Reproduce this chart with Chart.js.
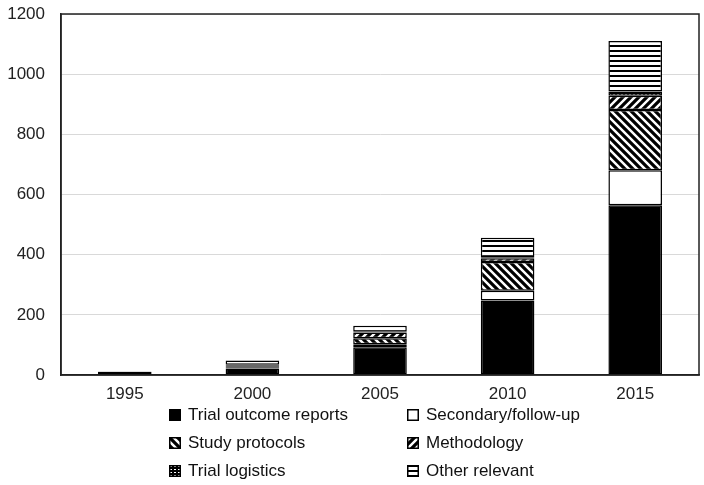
<!DOCTYPE html>
<html><head><meta charset="utf-8">
<script src="https://cdn.jsdelivr.net/npm/chart.js@4"></script>
<style>
html,body{margin:0;padding:0;background:#fff;}
#wrap{position:relative;width:704px;height:485px;}
canvas#c{position:absolute;left:0;top:0;}
#legend{position:absolute;left:0;top:0;width:704px;height:485px;pointer-events:none;font-family:"Liberation Sans",Arial,sans-serif;font-size:17px;color:#111;}
.li{position:absolute;height:20px;line-height:20px;white-space:nowrap;}
.li canvas{position:absolute;left:0;top:4px;}
.li span{position:absolute;left:19px;top:0;}
</style></head>
<body><div id="wrap"><canvas id="c" width="704" height="485"></canvas><div id="legend"></div></div>
<script>
const categories = ['1995','2000','2005','2010','2015'];
const seriesNames = ['Trial outcome reports','Secondary/follow-up','Study protocols','Methodology','Trial logistics','Other relevant'];
const trialOutcome = [10, 22, 92, 248, 564];
const secondary    = [1, 2, 10, 32, 117];
const protocols    = [0, 5, 20, 96, 200];
const methodology  = [0, 3, 19, 12, 47];
const logistics    = [0, 2, 3, 3, 14];
const otherRelevant= [1, 14, 20, 65, 168];
const yTicks = [0, 200, 400, 600, 800, 1000, 1200];

function makeTile(kind){
  const t = document.createElement('canvas');
  const ctx = t.getContext('2d');
  if(kind==='back'){ // "\" stripes
    t.width=8;t.height=8;
    ctx.fillStyle='#fff';ctx.fillRect(0,0,8,8);
    ctx.strokeStyle='#000';ctx.lineWidth=3.2;
    ctx.beginPath();
    ctx.moveTo(-2,-2);ctx.lineTo(10,10);
    ctx.moveTo(-2,6);ctx.lineTo(2,10);
    ctx.moveTo(6,-2);ctx.lineTo(10,2);
    ctx.stroke();
  } else if(kind==='fwd'){ // "/" stripes
    t.width=8;t.height=8;
    ctx.fillStyle='#fff';ctx.fillRect(0,0,8,8);
    ctx.strokeStyle='#000';ctx.lineWidth=3.2;
    ctx.beginPath();
    ctx.moveTo(-2,10);ctx.lineTo(10,-2);
    ctx.moveTo(-2,2);ctx.lineTo(2,-2);
    ctx.moveTo(6,10);ctx.lineTo(10,6);
    ctx.stroke();
  } else if(kind==='grid'){
    t.width=4;t.height=3;
    ctx.fillStyle='#000';ctx.fillRect(0,0,4,3);
    ctx.fillStyle='#fff';ctx.fillRect(1,1,2,1);
  } else if(kind==='horiz'){
    t.width=4;t.height=5;
    ctx.fillStyle='#fff';ctx.fillRect(0,0,4,5);
    ctx.fillStyle='#000';ctx.fillRect(0,0,4,2);
  } else return null;
  return t;
}
const kinds = ['solid','white','back','fwd','grid','horiz'];
function fillFor(kind, ctx){
  if(kind==='solid') return '#000';
  if(kind==='white') return '#fff';
  return ctx.createPattern(makeTile(kind),'repeat');
}
const mainCtx = document.getElementById('c').getContext('2d');
const fills = kinds.map(k=>fillFor(k, mainCtx));
const values = [trialOutcome, secondary, protocols, methodology, logistics, otherRelevant];

const frame = {
  id:'frame',
  afterDatasetsDraw(chart){
    const a = chart.chartArea, c = chart.ctx;
    c.save(); c.strokeStyle='#222'; c.lineWidth=1.5;
    c.strokeRect(a.left, a.top, a.right-a.left, a.bottom-a.top);
    c.restore();
  }
};

const chart = new Chart(document.getElementById('c'), {
  type:'bar',
  data:{
    labels: categories,
    datasets: seriesNames.map((n,i)=>({
      label:n, data:values[i], backgroundColor:fills[i],
      borderColor:'#000', borderWidth:1.5, borderSkipped:false,
      categoryPercentage:1.0, barPercentage:0.42
    }))
  },
  options:{
    responsive:false, animation:false,
    layout:{padding:{left:0,right:5,top:14,bottom:0}},
    plugins:{legend:{display:false}, tooltip:{enabled:false}},
    scales:{
      x:{stacked:true,
        grid:{display:false},
        border:{color:'#222',width:1.5},
        ticks:{color:'#222',font:{family:'"Liberation Sans", Arial, sans-serif',size:17},padding:1},
        afterFit(s){ s.height = 110; s.paddingLeft = 0; s.paddingRight = 0; }
      },
      y:{stacked:true, min:0, max:1200,
        grid:{color:'#d9d9d9',lineWidth:1,drawTicks:false},
        border:{color:'#222',width:1.5},
        afterBuildTicks(s){ s.ticks = yTicks.map(v=>({value:v})); },
        ticks:{color:'#222',font:{family:'"Liberation Sans", Arial, sans-serif',size:17},padding:16,
          callback:(v)=>String(v)},
        afterFit(s){ s.width = 61; s.paddingTop = 0; s.paddingBottom = 0; }
      }
    }
  },
  plugins:[frame]
});

// legend
const lg = document.getElementById('legend');
const pos = [[169,405],[407,405],[169,433],[407,433],[169,461],[407,461]];
chart.data.datasets.forEach((d,i)=>{
  const div = document.createElement('div'); div.className='li';
  div.style.left = pos[i][0]+'px'; div.style.top = pos[i][1]+'px';
  const cv = document.createElement('canvas'); cv.width=12; cv.height=12;
  const x = cv.getContext('2d');
  x.fillStyle = '#fff'; x.fillRect(0,0,12,12);
  x.fillStyle = fillFor(kinds[i], x); x.fillRect(1,1,10,10);
  x.strokeStyle='#000'; x.lineWidth=1.5; x.strokeRect(0.75,0.75,10.5,10.5);
  const sp = document.createElement('span'); sp.textContent = d.label;
  div.appendChild(cv); div.appendChild(sp); lg.appendChild(div);
});
</script></body></html>
